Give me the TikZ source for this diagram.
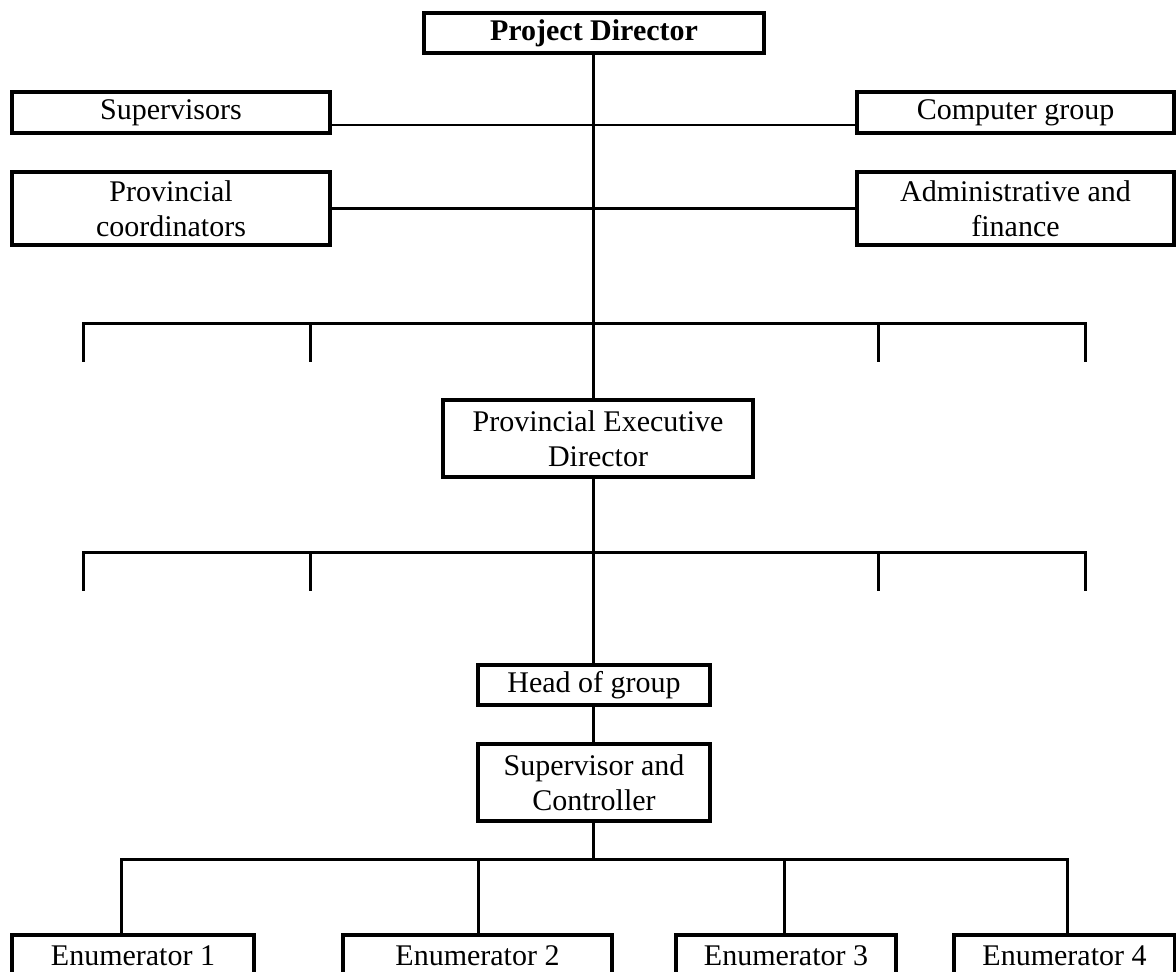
\documentclass[tikz,border=0pt]{standalone}
\usepackage{fontspec}
\setmainfont{Liberation Serif}
\begin{document}
\begin{tikzpicture}[x=1pt,y=-1pt,
  box/.style={draw,line width=3.2pt,inner sep=0pt,align=center,
    font=\fontsize{30}{35}\selectfont},
  conn/.style={line width=3pt},
  thinconn/.style={line width=2.4pt}]
\useasboundingbox (0,0) rectangle (1176,972);
\clip (0,0) rectangle (1176,972);
\fill[white] (0,0) rectangle (1176,972);
% boxes
\node[box,minimum width=340pt,minimum height=40pt,font=\fontsize{30}{35}\selectfont\bfseries] (pd) at (594,33) {Project Director};
\node[box,minimum width=318pt,minimum height=41pt] (sup) at (171,112.5) {Supervisors};
\node[box,minimum width=317pt,minimum height=41pt] (comp) at (1015.5,112.5) {Computer group};
\node[box,minimum width=318pt,minimum height=73pt] (pc) at (171,208.5) {Provincial\\coordinators};
\node[box,minimum width=317pt,minimum height=73pt] (adm) at (1015.5,208.5) {Administrative and\\finance};
\node[box,minimum width=310pt,minimum height=77pt] (ped) at (598,438.5) {Provincial Executive\\Director};
\node[box,minimum width=232pt,minimum height=40pt] (hog) at (594,685) {Head of group};
\node[box,minimum width=232pt,minimum height=77pt] (sc) at (594,782.5) {Supervisor and\\Controller};
\node[box,minimum width=242pt,minimum height=42pt] (e1) at (133,956) {Enumerator 1};
\node[box,minimum width=269pt,minimum height=42pt] (e2) at (477.5,956) {Enumerator 2};
\node[box,minimum width=220pt,minimum height=42pt] (e3) at (786,956) {Enumerator 3};
\node[box,minimum width=221pt,minimum height=42pt] (e4) at (1064.5,956) {Enumerator 4};
% coordinates
\coordinate (m) at (593,0);
\coordinate (b1L) at (83,323);
\coordinate (b1a) at (310,323);
\coordinate (b1b) at (878,323);
\coordinate (b1R) at (1085,323);
\coordinate (b2L) at (83,552);
\coordinate (b2a) at (310,552);
\coordinate (b2b) at (878,552);
\coordinate (b2R) at (1085,552);
\coordinate (eL) at (121,859);
\coordinate (ea) at (478,859);
\coordinate (eb) at (784,859);
\coordinate (eR) at (1067,859);
% main vertical
\draw[conn] (m |- pd.south) -- (m |- ped.north);
\draw[conn] (m |- ped.south) -- (m |- hog.north);
\draw[conn] (m |- hog.south) -- (m |- sc.north);
\draw[conn] (m |- sc.south) -- (m |- eL);
% side connectors
\draw[thinconn] ([yshift=-12.5pt]sup.east) -- ([yshift=-12.5pt]comp.west);
\draw[thinconn] (pc.east) -- (adm.west);
% bracket 1
\draw[conn,line cap=rect] (b1L) -- (b1R);
\foreach \c in {b1L,b1a,b1b,b1R} \draw[conn] (\c) -- ++(0,39);
% bracket 2
\draw[conn,line cap=rect] (b2L) -- (b2R);
\foreach \c in {b2L,b2a,b2b,b2R} \draw[conn] (\c) -- ++(0,39);
% enumerators
\draw[conn,line cap=rect] (eL) -- (eR);
\draw[conn] (eL) -- (eL |- e1.north);
\draw[conn] (ea) -- (ea |- e2.north);
\draw[conn] (eb) -- (eb |- e3.north);
\draw[conn] (eR) -- (eR |- e4.north);
\end{tikzpicture}
\end{document}
